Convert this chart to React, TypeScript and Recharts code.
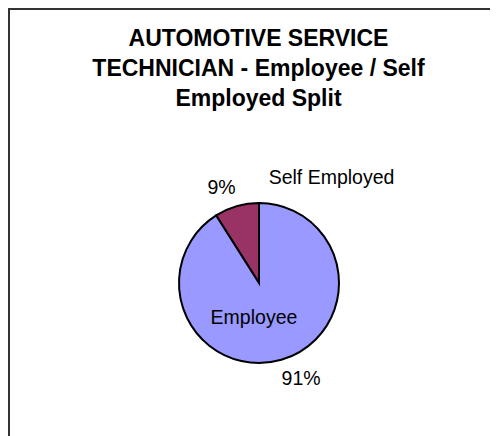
import React from 'react';
import { PieChart, Pie, Cell } from 'recharts';

const categories = ['Self Employed', 'Employee'];
const shares = [9, 91];
const colors = ['#993366', '#9999FF'];

const data = categories.map((name, i) => ({ name, value: shares[i] }));

// where Excel put each text, polar around the pie centre (degrees, px)
const labelSpots: Record<string, { name: [number, number]; pct: [number, number] }> = {
  'Self Employed': { name: [55.7, 128.7], pct: [111.3, 103] },
  Employee: { name: [261.6, 34.4], pct: [-66.1, 103.9] },
};

const RAD = Math.PI / 180;
const at = (cx: number, cy: number, [a, r]: [number, number]) => ({
  x: cx + r * Math.cos(a * RAD),
  y: cy - r * Math.sin(a * RAD),
});

const textStyle = {
  fontFamily: '"Liberation Sans", Arial, sans-serif',
  fontSize: 19.5,
  fill: '#000',
};

const renderLabel = (props: any) => {
  const { cx, cy, name, percent } = props;
  const spot = labelSpots[name];
  if (!spot) return null;
  const n = at(cx, cy, spot.name);
  const p = at(cx, cy, spot.pct);
  return (
    <g>
      <text x={n.x} y={n.y} textAnchor="middle" dominantBaseline="central" style={textStyle}>
        {name}
      </text>
      <text x={p.x} y={p.y} textAnchor="middle" dominantBaseline="central" style={textStyle}>
        {`${Math.round(percent * 100)}%`}
      </text>
    </g>
  );
};

const App: React.FC = () => {
  return (
    <div
      style={{
        position: 'relative',
        width: 490,
        height: 428,
        boxSizing: 'border-box',
        borderTop: '2px solid #333',
        borderLeft: '2px solid #333',
        overflow: 'hidden',
      }}
    >
      <div
        style={{
          position: 'absolute',
          left: 48.5,
          top: 13,
          width: 400,
          textAlign: 'center',
          fontFamily: '"Liberation Sans", Arial, sans-serif',
          fontWeight: 'bold',
          fontSize: 23,
          lineHeight: '30px',
          color: '#000',
        }}
      >
        AUTOMOTIVE SERVICE
        <br />
        TECHNICIAN - Employee / Self
        <br />
        Employed Split
      </div>
      <div style={{ position: 'absolute', left: -2, top: -2 }}>
        <PieChart width={490} height={428} margin={{ top: 0, right: 0, bottom: 0, left: 0 }}>
          <Pie
            data={data}
            dataKey="value"
            nameKey="name"
            cx={251}
            cy={275}
            outerRadius={80}
            startAngle={90}
            endAngle={450}
            stroke="#000"
            strokeWidth={2}
            label={renderLabel}
            labelLine={false}
            isAnimationActive={false}
          >
            {data.map((entry, index) => (
              <Cell key={`cell-${index}`} fill={colors[index]} />
            ))}
          </Pie>
        </PieChart>
      </div>
    </div>
  );
};

export default App;
